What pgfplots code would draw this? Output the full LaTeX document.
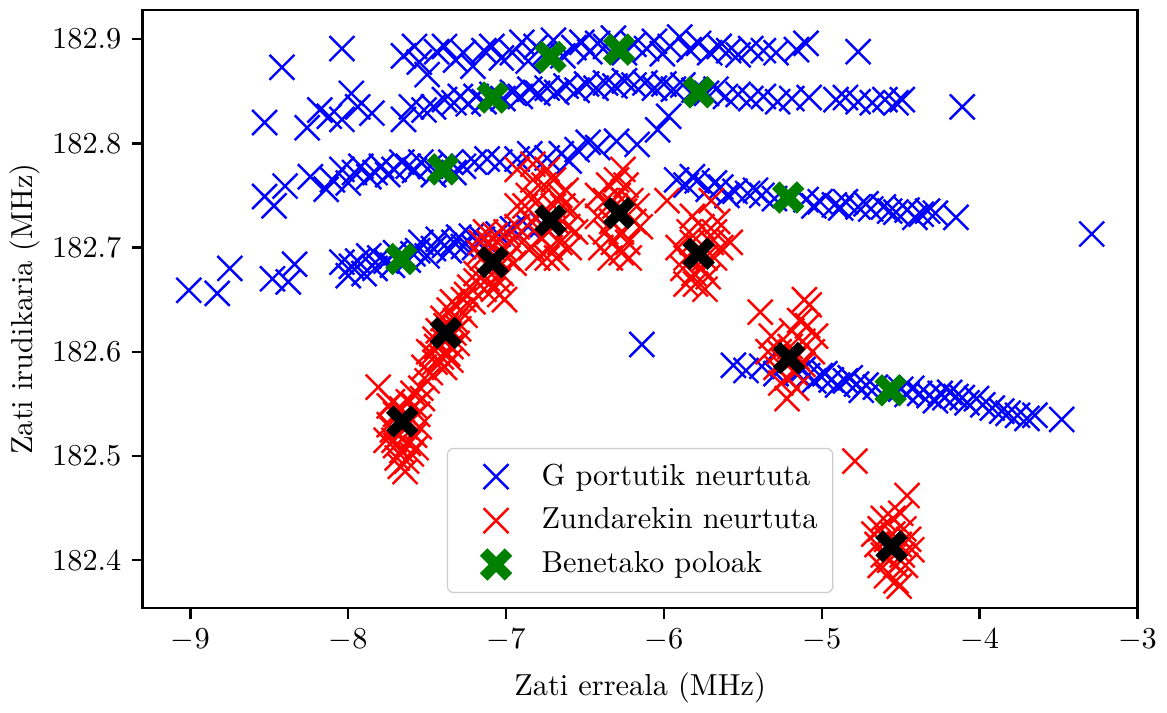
\documentclass[border=0pt]{standalone}
\usepackage{pgfplots}
\pgfplotsset{compat=1.18}
\definecolor{mplgreen}{RGB}{0,128,0}
\begin{document}
\begin{tikzpicture}
\begin{axis}[
  name=ax,
  scale only axis, width=327.7pt, height=197pt,
  xmin=-9.302, xmax=-3, ymin=182.354, ymax=182.928,
  xtick={-9,-8,-7,-6,-5,-4,-3},
  ytick={182.4,182.5,182.6,182.7,182.8,182.9},
  yticklabels={182.4,182.5,182.6,182.7,182.8,182.9},
  tick align=outside, tick pos=left,
  major tick length=3.5pt,
  every tick/.style={black, line width=0.8pt},
  axis line style={line width=0.8pt},
  xlabel={Zati erreala (MHz)}, ylabel={Zati irudikaria (MHz)},
  ylabel shift=-3pt,
  legend cell align=left,
  legend style={at={(0.5,0.025)}, anchor=south, draw=black!20, rounded corners=2pt,
    fill=white, fill opacity=0.8, text opacity=1, inner xsep=3pt, inner ysep=3pt,
    row sep=2pt, /tikz/every even column/.append style={column sep=7.5pt}},
  legend image code/.code={\path (0cm,-1pt) (0.9cm,1pt);\draw[mark repeat=2,mark phase=2,#1] plot coordinates {(0cm,0cm)(0.45cm,0cm)(0.9cm,0cm)};},
]
% G portutik neurtuta
\addplot[only marks, mark=x, color=blue, mark size=5.8pt, mark options={line width=0.8pt}] coordinates {
(-8.42,182.873) (-8.04,182.891) (-7.65,182.884) (-7.58,182.893) (-7.55,182.878) (-7.50,182.866)
(-7.44,182.888) (-7.39,182.893) (-7.32,182.880) (-7.27,182.887) (-7.21,182.874) (-7.14,182.889)
(-7.09,182.893) (-7.03,182.882) (-6.96,182.887) (-6.90,182.897) (-6.86,182.879) (-6.81,182.893)
(-6.76,182.886) (-6.70,182.899) (-6.64,182.884) (-6.57,182.892) (-6.52,182.897) (-6.47,182.888)
(-6.42,182.896) (-6.37,182.893) (-6.32,182.901) (-6.25,182.887) (-6.19,182.895) (-6.11,182.891)
(-6.06,182.898) (-6.01,182.886) (-5.96,182.893) (-5.90,182.902) (-5.84,182.890) (-5.78,182.896)
(-5.71,182.887) (-5.65,182.893) (-5.59,182.889) (-5.53,182.885) (-5.45,182.891) (-5.37,182.889)
(-5.29,182.887) (-5.10,182.896) (-5.16,182.890) (-4.77,182.888)
(-8.53,182.820) (-8.26,182.815) (-8.18,182.832) (-8.12,182.826) (-8.04,182.823) (-7.98,182.848)
(-7.94,182.835) (-7.85,182.829) (-7.65,182.823) (-7.60,182.835) (-7.52,182.832) (-7.46,182.835)
(-7.39,182.842) (-7.33,182.839) (-7.29,182.845) (-7.24,182.838) (-7.19,182.845) (-7.14,182.840)
(-7.09,182.847) (-7.02,182.843) (-6.96,182.849) (-6.91,182.845) (-6.85,182.852) (-6.80,182.848)
(-6.74,182.853) (-6.68,182.849) (-6.62,182.855) (-6.55,182.851) (-6.49,182.857) (-6.43,182.853)
(-6.37,182.858) (-6.31,182.855) (-6.25,182.860) (-6.19,182.856) (-6.12,182.858) (-6.06,182.853)
(-6.00,182.857) (-5.94,182.852) (-5.88,182.856) (-5.81,182.851) (-5.73,182.848) (-5.67,182.852)
(-5.61,182.845) (-5.53,182.847) (-5.45,182.843) (-5.37,182.845) (-5.28,182.840) (-5.19,182.843)
(-5.08,182.844) (-4.91,182.842) (-4.85,182.844) (-4.77,182.840) (-4.68,182.839) (-4.60,182.842)
(-4.53,182.839) (-4.49,182.842) (-4.11,182.835)
(-8.53,182.749) (-8.47,182.740) (-8.40,182.759) (-8.24,182.768) (-8.14,182.756) (-8.04,182.775)
(-7.96,182.772) (-7.87,182.768) (-7.79,182.778) (-7.71,182.775) (-7.62,182.778) (-7.54,182.782)
(-7.27,182.778) (-7.20,182.782) (-7.12,182.785) (-6.93,182.785) (-6.74,182.786) (-6.55,182.794)
(-6.42,182.796) (-6.30,182.802) (-6.17,182.799) (-6.04,182.813) (-5.97,182.826)
(-8.10,182.765) (-8.00,182.762) (-7.92,182.778) (-7.83,182.772) (-7.75,182.770) (-7.66,182.782)
(-7.58,182.774) (-7.48,182.778) (-7.33,182.772) (-7.35,182.782) (-7.46,182.770) (-7.04,182.782)
(-6.85,182.790) (-6.65,182.790) (-6.60,182.783) (-6.48,182.801)
(-5.92,182.765) (-5.86,182.760) (-5.79,182.764) (-5.72,182.756) (-5.64,182.758) (-5.55,182.754)
(-5.47,182.752) (-5.38,182.750) (-5.30,182.747) (-5.10,182.746) (-5.01,182.744) (-4.92,182.741)
(-4.85,182.744) (-4.77,182.739) (-4.69,182.737) (-4.61,182.739) (-4.53,182.734) (-4.46,182.736)
(-4.37,182.732) (-4.28,182.733) (-4.15,182.729) (-3.29,182.713)
(-5.82,182.768) (-5.68,182.762) (-5.60,182.750) (-5.42,182.755) (-5.05,182.740) (-4.88,182.738)
(-4.72,182.742) (-4.57,182.735) (-4.41,182.729) (-4.33,182.735)
(-9.01,182.659) (-8.83,182.656) (-8.75,182.680) (-8.48,182.670) (-8.38,182.667) (-8.34,182.684)
(-8.04,182.686) (-8.00,182.673) (-7.94,182.687) (-7.87,182.692) (-7.83,182.680) (-7.76,182.687)
(-7.59,182.694) (-7.54,182.705) (-7.46,182.699) (-7.39,182.702) (-7.33,182.705) (-7.27,182.701)
(-7.22,182.711) (-7.15,182.708) (-7.05,182.713) (-6.96,182.718) (-6.86,182.720) (-6.77,182.722)
(-7.98,182.682) (-7.90,182.675) (-7.80,182.690) (-7.72,182.683) (-7.70,182.695) (-7.62,182.688)
(-7.56,182.697) (-7.50,182.692) (-7.43,182.708) (-7.36,182.697) (-7.30,182.710) (-7.20,182.700)
(-6.14,182.607)
(-5.56,182.587) (-5.48,182.582) (-5.38,182.586) (-5.29,182.579) (-5.16,182.580) (-5.09,182.577)
(-5.01,182.577) (-4.94,182.573) (-4.85,182.572) (-4.78,182.569) (-4.72,182.568) (-4.66,182.566)
(-4.50,182.564) (-4.43,182.565) (-4.38,182.560) (-4.32,182.558) (-4.25,182.560) (-4.22,182.556)
(-4.15,182.557) (-4.11,182.556) (-3.98,182.549) (-3.86,182.543) (-3.76,182.539) (-3.65,182.539)
(-3.48,182.535)
(-5.12,182.583) (-5.05,182.572) (-4.98,182.579) (-4.90,182.568) (-4.82,182.575) (-4.75,182.563)
(-4.46,182.559) (-4.28,182.553) (-4.19,182.561) (-4.08,182.551) (-4.02,182.555) (-3.92,182.546)
(-3.82,182.541) (-3.70,182.536)
};
\addlegendentry{G portutik neurtuta}
% Zundarekin neurtuta
\addplot[only marks, mark=x, color=red, mark size=5.8pt, mark options={line width=0.8pt}] coordinates {
(-7.81,182.566) (-7.74,182.548) (-7.70,182.540) (-7.66,182.545) (-7.62,182.552) (-7.58,182.548)
(-7.72,182.525) (-7.68,182.520) (-7.64,182.528) (-7.60,182.535) (-7.56,182.540) (-7.70,182.510)
(-7.66,182.505) (-7.62,182.512) (-7.74,182.530) (-7.69,182.498) (-7.63,182.495) (-7.58,182.520)
(-7.55,182.528) (-7.67,182.490) (-7.60,182.502) (-7.71,182.515) (-7.65,182.538) (-7.59,182.560)
(-7.54,182.565) (-7.50,182.572) (-7.48,182.580) (-7.45,182.590) (-7.52,182.585) (-7.47,182.598)
(-7.76,182.515) (-7.64,182.485) (-7.57,182.508) (-7.72,182.552) (-7.53,182.555)
(-7.49,182.600) (-7.44,182.605) (-7.41,182.595) (-7.39,182.610) (-7.35,182.605) (-7.43,182.620)
(-7.38,182.625) (-7.33,182.618) (-7.40,182.632) (-7.36,182.640) (-7.32,182.630) (-7.29,182.640)
(-7.34,182.648) (-7.27,182.650) (-7.45,182.612) (-7.37,182.598) (-7.31,182.608) (-7.42,182.590)
(-7.30,182.622) (-7.26,182.635) (-7.39,182.585) (-7.35,182.592)
(-7.25,182.655) (-7.23,182.662) (-7.21,182.648) (-7.19,182.668)
(-7.19,182.675) (-7.15,182.690) (-7.12,182.670) (-7.09,182.700) (-7.06,182.690) (-7.03,182.675)
(-7.11,182.705) (-7.07,182.712) (-7.02,182.700) (-6.99,182.690) (-7.14,182.660) (-7.08,182.660)
(-7.04,182.655) (-7.17,182.695) (-7.00,182.715) (-6.97,182.705) (-7.10,182.680) (-7.05,182.668)
(-7.13,182.715) (-6.95,182.685) (-7.01,182.650) (-7.16,182.705)
(-6.93,182.720) (-6.88,182.740) (-6.84,182.725) (-6.80,182.745) (-6.76,182.735) (-6.73,182.715)
(-6.70,182.740) (-6.68,182.725) (-6.64,182.740) (-6.61,182.720) (-6.66,182.705) (-6.72,182.700)
(-6.78,182.710) (-6.84,182.700) (-6.90,182.705) (-6.76,182.760) (-6.70,182.765) (-6.83,182.765)
(-6.58,182.735) (-6.62,182.755) (-6.74,182.690) (-6.68,182.690) (-6.80,182.690) (-6.66,182.750)
(-6.86,182.750) (-6.56,182.715) (-6.93,182.740) (-6.74,182.775) (-6.60,182.700) (-6.93,182.775)
(-6.83,182.780)
(-6.42,182.730) (-6.37,182.745) (-6.33,182.725) (-6.29,182.750) (-6.25,182.735) (-6.21,182.745)
(-6.19,182.725) (-6.27,182.715) (-6.32,182.705) (-6.23,182.705) (-6.37,182.715) (-6.30,182.765)
(-6.24,182.760) (-6.35,182.760) (-6.17,182.740) (-6.27,182.695) (-6.34,182.690) (-6.22,182.690)
(-6.40,182.700) (-6.15,182.720) (-6.31,182.740) (-6.26,182.775) (-6.42,182.750)
(-5.91,182.700) (-5.86,182.690) (-5.82,182.705) (-5.78,182.700) (-5.74,182.690) (-5.70,182.705)
(-5.68,182.690) (-5.76,182.680) (-5.81,182.675) (-5.72,182.672) (-5.84,182.715) (-5.76,182.720)
(-5.68,182.715) (-5.80,182.665) (-5.74,182.660) (-5.64,182.700) (-5.88,182.680) (-5.66,182.725)
(-5.82,182.730) (-5.86,182.665) (-5.98,182.745) (-5.70,182.745) (-5.58,182.705)
(-5.39,182.638) (-5.32,182.615) (-5.27,182.600) (-5.24,182.590) (-5.20,182.605) (-5.16,182.595)
(-5.12,182.610) (-5.09,182.625) (-5.14,182.630) (-5.19,182.620) (-5.22,182.575) (-5.17,182.580)
(-5.12,182.588) (-5.29,182.585) (-5.06,182.600) (-5.11,182.650) (-5.08,182.645) (-5.22,182.555)
(-5.16,182.565) (-5.26,182.570) (-5.04,182.615) (-5.34,182.600)
(-4.79,182.495) (-4.46,182.462) (-4.63,182.430) (-4.59,182.420) (-4.55,182.425) (-4.51,182.415)
(-4.48,182.430) (-4.61,182.405) (-4.57,182.400) (-4.53,182.395) (-4.49,182.405) (-4.65,182.415)
(-4.45,182.420) (-4.59,182.385) (-4.53,182.380) (-4.63,182.395) (-4.55,182.440) (-4.50,182.445)
(-4.61,182.440) (-4.47,182.395) (-4.67,182.425) (-4.51,182.375) (-4.43,182.410)
};
\addlegendentry{Zundarekin neurtuta}
% Benetako poloak
\addplot[only marks, mark=x, color=mplgreen, mark size=5.8pt, mark options={line width=3.5pt}] coordinates {
(-6.719,182.883) (-6.284,182.890) (-7.084,182.844) (-5.780,182.849)
(-7.400,182.775) (-5.213,182.748) (-7.664,182.689) (-4.564,182.563)
};
\addlegendentry{Benetako poloak}
\addplot[only marks, mark=x, color=black, mark size=5.8pt, mark options={line width=3.5pt}, forget plot] coordinates {
(-7.658,182.533) (-7.381,182.618) (-7.084,182.686) (-6.719,182.726)
(-6.284,182.733) (-5.780,182.694) (-5.207,182.594) (-4.558,182.413)
};
\end{axis}
\path ([yshift=3.3pt]ax.north);
\end{tikzpicture}
\end{document}
